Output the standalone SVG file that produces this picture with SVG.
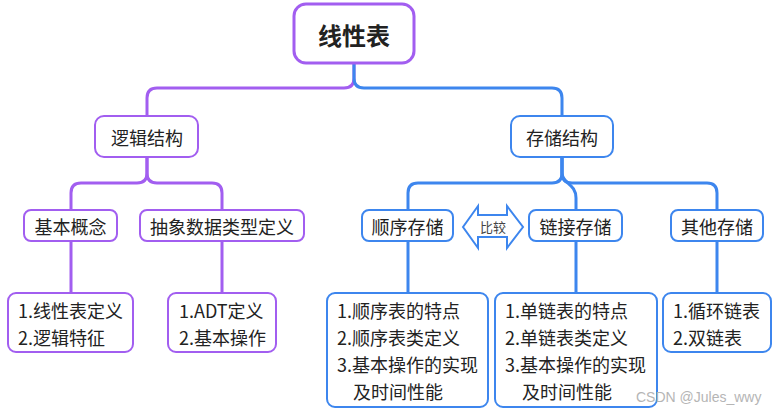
<svg xmlns="http://www.w3.org/2000/svg" width="775" height="414" viewBox="0 0 775 414">
<style>
text{font-family:"Noto Sans CJK SC","Noto Sans",sans-serif;fill:#222;}
.lbl{font-size:18px;text-anchor:middle;dominant-baseline:central;}
.ln{font-size:18px;dominant-baseline:central;}
.p{fill:#fff;stroke:#a25ef0;stroke-width:2;}
.b{fill:#fff;stroke:#3d86ee;stroke-width:2;}
.cp{fill:none;stroke:#a25ef0;stroke-width:3;stroke-linecap:round;}
.cb{fill:none;stroke:#3d86ee;stroke-width:3;stroke-linecap:round;}
</style>
<rect width="775" height="414" fill="#fff"/>
<g id="connectors">
<path class="cp" d="M354,63 V78 Q354,88 344,88 H157 Q147,88 147,98 V116"/>
<path class="cb" d="M354,63 V78 Q354,88 364,88 H552 Q562,88 562,98 V116"/>
<path class="cp" d="M147,157 V173 Q147,183 137,183 H81 Q71,183 71,193 V210"/>
<path class="cp" d="M147,157 V173 Q147,183 157,183 H212 Q222,183 222,193 V210"/>
<path class="cb" d="M562,157 V173 Q562,183 552,183 H418 Q408,183 408,193 V210"/>
<path class="cb" d="M562,157 V173 Q562,183 572,183 H707 Q717,183 717,193 V210"/>
<path class="cb" d="M562,157 V173 C562,184 576,183 576,198 V210"/>
<path class="cp" d="M71,241 V293"/>
<path class="cp" d="M222,241 V293"/>
<path class="cb" d="M408,241 V293"/>
<path class="cb" d="M576,241 V293"/>
<path class="cb" d="M717,241 V293"/>
</g>
<g id="root">
<rect x="294" y="4" width="120" height="59" rx="12" fill="#fff" stroke="#a25ef0" stroke-width="3"/>
<text x="354" y="34" text-anchor="middle" dominant-baseline="central" font-size="24" font-weight="bold">线性表</text>
</g>
<g id="logic">
<rect class="p" x="95" y="116" width="103" height="41" rx="9"/>
<text class="lbl" x="147" y="136.5">逻辑结构</text>
</g>
<g id="storage">
<rect class="b" x="511" y="116" width="102" height="41" rx="9"/>
<text class="lbl" x="562" y="136.5">存储结构</text>
</g>
<g id="concept">
<rect class="p" x="24" y="210" width="93" height="31" rx="7"/>
<text class="lbl" x="70.5" y="225.5">基本概念</text>
</g>
<g id="adt">
<rect class="p" x="140" y="210" width="164" height="31" rx="7"/>
<text class="lbl" x="222" y="225.5">抽象数据类型定义</text>
</g>
<g id="seq">
<rect class="b" x="362" y="210" width="91" height="31" rx="7"/>
<text class="lbl" x="407.5" y="225.5">顺序存储</text>
</g>
<g id="linked">
<rect class="b" x="529" y="210" width="93" height="31" rx="7"/>
<text class="lbl" x="575.5" y="225.5">链接存储</text>
</g>
<g id="other">
<rect class="b" x="671" y="210" width="92" height="31" rx="7"/>
<text class="lbl" x="717" y="225.5">其他存储</text>
</g>
<g id="compare">
<polygon points="463,227 478,206 478,215 507,215 507,206 523,227 507,248 507,237 478,237 478,248" fill="#fff" stroke="#3d86ee" stroke-width="2" stroke-linejoin="miter"/>
<text x="493" y="226.5" text-anchor="middle" dominant-baseline="central" font-size="13" style="fill:#444">比较</text>
</g>
<g id="concept-detail">
<rect class="p" x="8" y="293" width="125" height="59" rx="8"/>
<text class="ln" x="18" y="310">1.线性表定义</text>
<text class="ln" x="18" y="337">2.逻辑特征</text>
</g>
<g id="adt-detail">
<rect class="p" x="168" y="293" width="108" height="59" rx="8"/>
<text class="ln" x="179" y="310">1.ADT定义</text>
<text class="ln" x="179" y="337">2.基本操作</text>
</g>
<g id="seq-detail">
<rect class="b" x="327" y="293" width="161" height="114" rx="8"/>
<text class="ln" x="337" y="310">1.顺序表的特点</text>
<text class="ln" x="337" y="337">2.顺序表类定义</text>
<text class="ln" x="337" y="364">3.基本操作的实现</text>
<text class="ln" x="353" y="391">及时间性能</text>
</g>
<g id="linked-detail">
<rect class="b" x="495" y="293" width="162" height="114" rx="8"/>
<text class="ln" x="505" y="310">1.单链表的特点</text>
<text class="ln" x="505" y="337">2.单链表类定义</text>
<text class="ln" x="505" y="364">3.基本操作的实现</text>
<text class="ln" x="522" y="391">及时间性能</text>
</g>
<g id="other-detail">
<rect class="b" x="663" y="293" width="108" height="59" rx="8"/>
<text class="ln" x="673" y="310">1.循环链表</text>
<text class="ln" x="673" y="337">2.双链表</text>
</g>
<text x="636" y="402" font-size="14" style="font-family:'Liberation Sans',Arial,sans-serif;fill:#b5b5b5">CSDN @Jules_wwy</text>
</svg>
